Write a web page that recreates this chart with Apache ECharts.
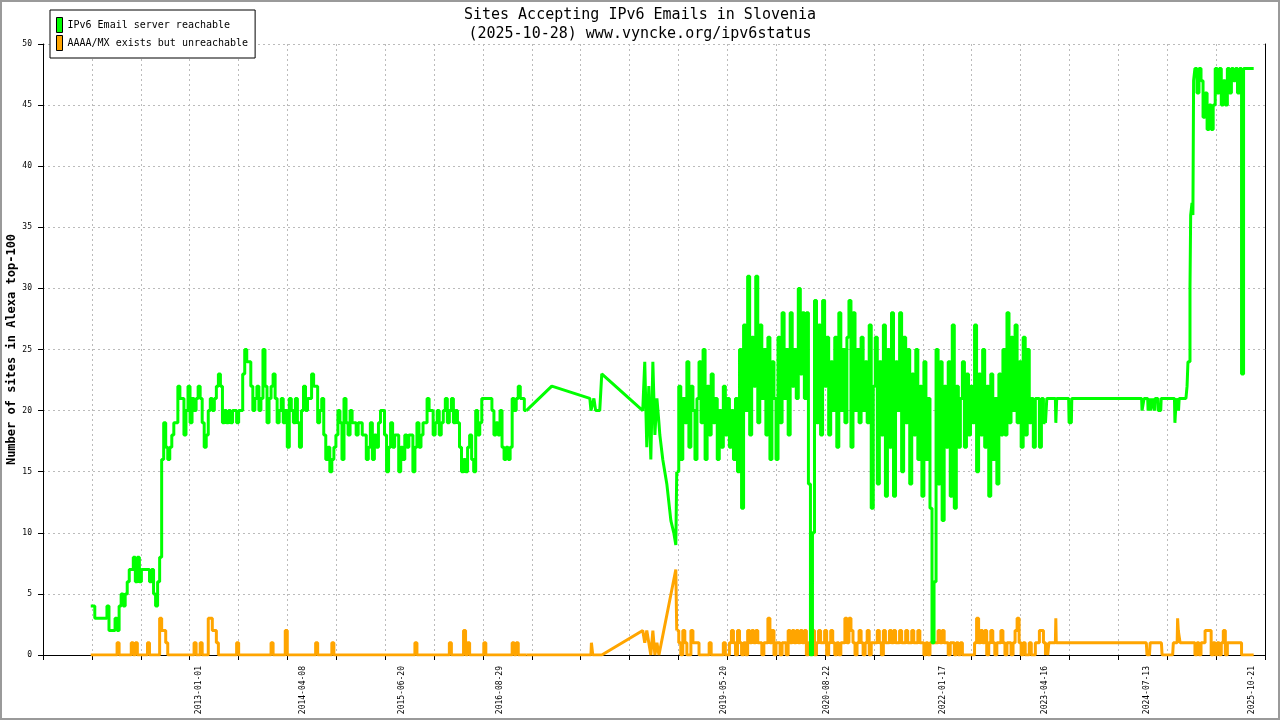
<!DOCTYPE html>
<html>
<head>
<meta charset="utf-8">
<script src="https://cdn.jsdelivr.net/npm/echarts@6/dist/echarts.min.js"></script>
<style>
html, body { margin: 0; padding: 0; background: #fff; }
#chart { width: 1280px; height: 720px; }
</style>
</head>
<body>
<div id="chart"></div>
<script>
// texts
var titleLines = ['Sites Accepting IPv6 Emails in Slovenia', '(2025-10-28) www.vyncke.org/ipv6status'];
var seriesNames = ['IPv6 Email server reachable', 'AAAA/MX exists but unreachable'];
var yAxisName = 'Number of sites in Alexa top-100';
var xLabelDates = ['2013-01-01', '2014-04-08', '2015-06-20', '2016-08-29', '2019-05-20',
	'2020-08-22', '2022-01-17', '2023-04-16', '2024-07-13', '2025-10-21'];

// sampled parts are one value every stepDays days from their start date
var stepDays = 9;

// IPv6 Email server reachable
var greenStart1 = '2011-09-08';
var green1 = [
	4,4,3,3,3,3,3,3,4,2, 2,2,3,2,4,5,4,5,6,7,
	7,8,6,8,6,7,7,7,7,6, 7,5,4,6,8,16,19,17,16,17,
	18,19,19,22,21,21,18,20,22,19, 21,20,21,22,21,19,17,18,20,21,
	20,21,22,23,22,19,20,19,20,19, 20,20,19,20,20,23,25,24,24,22,
	20,21,22,20,21,25,22,19,21,22, 23,21,19,20,21,19,20,17,21,20,
	19,21,19,17,20,22,20,21,21,23, 22,22,19,20,21,18,16,17,15,16,
	17,18,20,19,16,21,19,18,20,19, 19,18,19,19,18,18,16,17,19,16,
	18,17,19,20,20,18,15,17,19,17, 18,18,15,17,16,18,17,18,18,15,
	17,19,17,18,19,19,21,20,20,18, 19,20,18,19,20,21,19,20,21,19,
	20,19,17,15,16,15,17,18,16,15, 20,18,19,21,21,21,21,21,20,18,
	19,18,20,17,16,17,16,17,21,20, 21,22,21,21,20,20
];
var greenMid = [
	['2017-04-17', 22], ['2017-10-03', 21], ['2017-10-08', 20], ['2017-10-21', 21],
	['2017-10-29', 20], ['2017-11-16', 20], ['2017-11-25', 23], ['2018-05-26', 20],
	['2018-06-04', 24], ['2018-06-13', 17], ['2018-06-22', 22], ['2018-07-01', 16],
	['2018-07-10', 24], ['2018-07-19', 18], ['2018-07-28', 21], ['2018-08-06', 19],
	['2018-08-10', 18], ['2018-08-23', 16], ['2018-09-10', 14], ['2018-09-28', 11],
	['2018-10-11', 10], ['2018-10-20', 9]
];
var greenStart2 = '2018-10-24';
var green2 = [
	15,22,16,21,19,24,17,22,20,16, 21,24,19,25,16,22,18,23,19,21,
	16,20,17,22,18,21,17,20,16,21, 15,25,12,27,20,31,18,26,22,31,
	19,27,21,25,18,26,16,24,21,16, 26,19,28,21,25,18,28,22,25,21,
	30,23,28,21,28,14,0,10,29,19, 27,18,29,22,26,18,24,20,26,17,
	28,20,25,19,26,29,17,28,20,25, 19,26,20,24,19,27,12,22,26,14,
	24,18,27,13,25,17,28,13,24,20, 28,15,26,19,25,14,23,18,25,16,
	22,13,24,16,21,12,1,6,25,14, 24,11,22,17,24,13,27,12,22,17,
	21,24,17,23,18,22,19,27,15,23, 18,25,17,22,13,23,16,21,14,23,
	18,25,18,28,19,26,20,27,19,24, 17,26,18,25,19,21,17,21,21,17,
	21,19,19
];
var greenLate = [
	['2023-04-22', 20], ['2023-04-25', 21], ['2023-06-02', 21], ['2023-06-04', 19],
	['2023-06-08', 21], ['2023-07-31', 21], ['2023-08-02', 19], ['2023-08-12', 19],
	['2023-08-14', 21], ['2024-06-19', 21], ['2024-06-21', 20], ['2024-06-28', 20],
	['2024-06-30', 21], ['2024-07-16', 21], ['2024-07-18', 20], ['2024-07-24', 20],
	['2024-07-26', 21], ['2024-07-30', 20], ['2024-08-05', 20], ['2024-08-07', 21],
	['2024-08-14', 21], ['2024-08-16', 20], ['2024-08-18', 21], ['2024-08-30', 21],
	['2024-09-01', 20], ['2024-09-12', 20], ['2024-09-14', 21], ['2024-11-12', 21],
	['2024-11-14', 19], ['2024-11-17', 20], ['2024-11-20', 21], ['2024-11-28', 21],
	['2024-11-30', 20], ['2024-12-03', 21], ['2025-01-02', 21], ['2025-01-07', 22],
	['2025-01-11', 24], ['2025-01-20', 30], ['2025-01-23', 36], ['2025-01-29', 37],
	['2025-02-02', 36], ['2025-02-05', 47]
];
var greenStart3 = '2025-02-11';
var green3 = [
	48,46,48,47,44,46,43,45,43,45, 48,46,48,45,47,45,48,46,48,47,
	48,46,48,23,48,48,48,48,48,48
];

// AAAA/MX exists but unreachable
var orangeStart1 = '2011-09-08';
var orange1 = [
	0,0,0,0,0,0,0,0,0,0, 0,0,0,1,0,0,0,0,0,0,
	1,0,1,0,0,0,0,0,1,0, 0,0,0,0,3,2,2,1,0,0,
	0,0,0,0,0,0,0,0,0,0, 0,1,0,0,1,0,0,0,3,3,
	2,2,1,0,0,0,0,0,0,0, 0,0,1,0,0,0,0,0,0,0,
	0,0,0,0,0,0,0,0,0,1, 0,0,0,0,0,0,2,0,0,0,
	0,0,0,0,0,0,0,0,0,0, 0,1,0,0,0,0,0,0,0,1,
	0,0,0,0,0,0,0,0,0,0, 0,0,0,0,0,0,0,0,0,0,
	0,0,0,0,0,0,0,0,0,0, 0,0,0,0,0,0,0,0,0,0,
	1,0,0,0,0,0,0,0,0,0, 0,0,0,0,0,0,0,1,0,0,
	0,0,0,0,2,0,1,0,0,0, 0,0,0,0,1,0,0,0,0,0,
	0,0,0,0,0,0,0,0,1,0, 1,0,0,0,0,0
];
var orangeMid = [
	['2017-10-08', 0], ['2017-10-10', 1], ['2017-10-14', 1], ['2017-10-16', 0],
	['2017-11-25', 0], ['2018-05-26', 2], ['2018-06-04', 1], ['2018-06-13', 2],
	['2018-06-22', 1], ['2018-07-01', 0], ['2018-07-10', 2], ['2018-07-19', 0],
	['2018-07-28', 1], ['2018-08-06', 0], ['2018-08-10', 0], ['2018-10-20', 7]
];
var orangeStart2 = '2018-10-24';
var orange2 = [
	2,1,0,2,1,0,0,2,1,1, 1,0,0,0,0,0,1,0,0,0,
	0,0,0,1,0,0,1,2,1,0, 2,1,0,1,0,2,1,2,1,2,
	1,1,0,1,1,3,1,2,0,1, 1,0,1,1,0,2,1,2,1,2,
	1,2,1,2,0,1,1,2,0,1, 2,1,1,2,0,1,2,1,0,1,
	0,1,1,3,1,3,2,1,0,1, 2,1,0,1,2,0,1,1,1,2,
	1,0,2,1,1,2,1,2,1,1, 2,1,1,2,1,1,2,1,1,2,
	1,1,0,1,0,1,1,1,1,2, 1,2,1,1,0,1,1,0,1,0,
	1,0,0,0,0,0,0,1,3,1, 2,1,2,0,1,2,1,0,1,1,
	2,1,0,1,1,0,1,2,3,1, 0,1,0,0,1,0,0,1,1,2,
	2,1,0
];
var orangeLate = [
	['2023-04-24', 1], ['2023-04-29', 0], ['2023-05-04', 1], ['2023-06-02', 1],
	['2023-06-04', 3], ['2023-06-06', 1], ['2024-07-10', 1], ['2024-07-13', 0],
	['2024-07-24', 0], ['2024-07-27', 1], ['2024-09-15', 1], ['2024-09-18', 0],
	['2024-11-04', 0], ['2024-11-07', 1], ['2024-11-24', 1], ['2024-11-26', 3],
	['2024-11-29', 2], ['2024-12-04', 2], ['2024-12-07', 1], ['2025-02-02', 1]
];
var orangeStart3 = '2025-02-11';
var orange3 = [
	0,1,0,1,1,2,2,2,0,1, 0,1,0,1,2,0,1,1,1,1,
	1,1,1,0,0,0,0,0,0,0
];

var DAY = 86400000;
var font = 'DejaVu Sans Mono';

function ts(s) {
	var p = s.split('-');
	return new Date(+p[0], +p[1] - 1, +p[2]).getTime();
}
function sampled(start, values) {
	var p = start.split('-');
	return values.map(function(v, i) {
		return [new Date(+p[0], +p[1] - 1, +p[2] + i * stepDays).getTime(), v];
	});
}
function listed(points) {
	return points.map(function(d) {
		return [ts(d[0]), d[1]];
	});
}
function last(a) {
	return a[a.length - 1];
}
function pad(n) {
	return n < 10 ? '0' + n : '' + n;
}
function fmtDate(v) {
	var d = new Date(v + 12 * 3600000);
	return d.getFullYear() + '-' + pad(d.getMonth() + 1) + '-' + pad(d.getDate());
}

// dense parts are drawn as steps, the gaps in the record as straight joins
function buildParts(start1, vals1, mid, start2, vals2, late, start3, vals3) {
	var a = sampled(start1, vals1);
	var c = sampled(start2, vals2);
	var b = [last(a)].concat(listed(mid), [c[0]]);
	var d = [last(c)].concat(listed(late), sampled(start3, vals3));
	return [{ data: a, step: 'end' }, { data: b, step: false }, { data: c, step: 'end' }, { data: d, step: 'end' }];
}

var greenParts = buildParts(greenStart1, green1, greenMid, greenStart2, green2, greenLate, greenStart3, green3);
var orangeParts = buildParts(orangeStart1, orange1, orangeMid, orangeStart2, orange2, orangeLate, orangeStart3, orange3);

// x range of the plot, the grid has 25 equal columns
var axisStart = ts('2013-01-01') - 693.1 * DAY;
var axisEnd = ts('2013-01-01') + 4735.2 * DAY;
var tickValues = [];
for(var k = 0; k <= 25; k++) {
	tickValues.push(axisStart + k * (axisEnd - axisStart) / 25);
}

var gridLine = { color: '#bbbbbb', width: 1, type: [2, 3] };

function makeSeries(name, color, parts) {
	return parts.map(function(p) {
		return {
			name: name,
			type: 'line',
			xAxisIndex: 1,
			yAxisIndex: 0,
			data: p.data,
			step: p.step,
			showSymbol: false,
			symbol: 'none',
			lineStyle: { color: color, width: 3 },
			itemStyle: { color: color }
		};
	});
}

var myChart = echarts.init(document.getElementById('chart'));

var option = {
	animation: false,
	backgroundColor: '#fff',
	textStyle: { fontFamily: font },
	title: {
		text: titleLines.join('\n'),
		left: 'center',
		top: 1,
		textStyle: { fontFamily: font, fontSize: 15, fontWeight: 'normal', lineHeight: 19, color: '#000' }
	},
	legend: {
		data: [seriesNames[0], seriesNames[1]],
		orient: 'vertical',
		left: 50,
		top: 10,
		padding: [7, 7, 7, 6],
		itemWidth: 6,
		itemHeight: 15,
		itemGap: 2,
		icon: 'rect',
		itemStyle: { borderColor: '#000', borderWidth: 1 },
		backgroundColor: '#fff',
		borderColor: '#000',
		borderWidth: 1,
		textStyle: { fontFamily: font, fontSize: 10, color: '#000' },
		selectedMode: false
	},
	graphic: [{
		type: 'rect',
		shape: { x: 1, y: 1, width: 1278, height: 718 },
		style: { fill: null, stroke: '#9a9a9a', lineWidth: 2 },
		silent: true
	}],
	grid: { left: 43, right: 15, top: 44, bottom: 65, outerBoundsMode: 'none', containLabel: false },
	xAxis: [{
			// only for the vertical grid lines
			type: 'value',
			position: 'top',
			min: 0,
			max: 25,
			interval: 1,
			axisLine: { show: false },
			axisTick: { show: false },
			axisLabel: { show: false },
			splitLine: { show: true, lineStyle: gridLine }
		},
		{
			// dates as timestamps
			type: 'value',
			position: 'bottom',
			min: axisStart,
			max: axisEnd,
			scale: true,
			axisLine: { show: true, onZero: false, lineStyle: { color: '#000', width: 1 } },
			axisTick: { show: true, customValues: tickValues, length: 5, lineStyle: { color: '#000' } },
			axisLabel: {
				customValues: xLabelDates.map(ts),
				rotate: 90,
				fontSize: 8,
				margin: 11,
				color: '#000',
				fontFamily: font,
				formatter: fmtDate
			},
			splitLine: { show: false }
		}
	],
	yAxis: [{
			type: 'value',
			min: 0,
			max: 50,
			interval: 5,
			name: yAxisName,
			nameLocation: 'middle',
			nameGap: 25,
			nameMoveOverlap: false,
			nameTextStyle: { fontFamily: font, fontWeight: 'bold', fontSize: 12, color: '#000' },
			axisLine: { show: true, lineStyle: { color: '#000' } },
			axisTick: { show: true, length: 5, lineStyle: { color: '#000' } },
			axisLabel: { fontSize: 8, margin: 11, color: '#000', fontFamily: font },
			splitLine: { show: true, lineStyle: gridLine }
		},
		{
			type: 'value',
			position: 'right',
			min: 0,
			max: 50,
			interval: 5,
			axisLine: { show: true, lineStyle: { color: '#000' } },
			axisTick: { show: false },
			axisLabel: { show: false },
			splitLine: { show: false }
		}
	],
	// orange first so the green line is drawn over it
	series: makeSeries(seriesNames[1], '#ffa500', orangeParts)
		.concat(makeSeries(seriesNames[0], '#00ff00', greenParts))
};
myChart.setOption(option);
</script>
</body>
</html>
